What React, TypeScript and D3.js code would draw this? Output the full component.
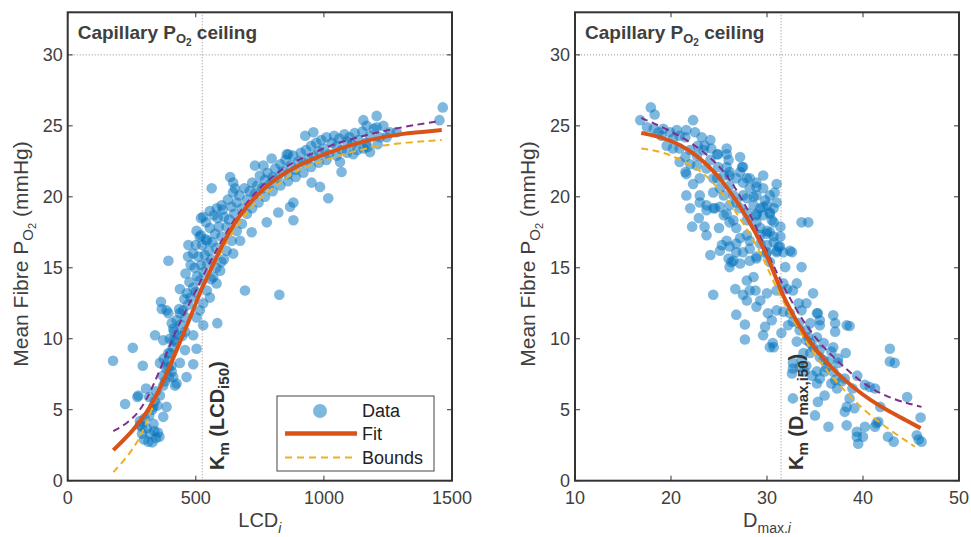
import React from "react";
import * as d3 from "d3";

// ---------- data ----------
const yTicks = [0, 5, 10, 15, 20, 25, 30];
const leftXTicks = [0, 500, 1000, 1500];
const rightXTicks = [10, 20, 30, 40, 50];
const leftKm = 525;
const rightKm = 31.46;
const ceiling = 30;

const leftPoints: [number, number][] = [
  [177,8.45],[254,9.36],[293,8.1],[224,5.4],[306,6.5],[272,5.9],[341,10.25],[364,12.6],[367,12.1],[438,13.5],
  [584,11.1],[692,13.4],[826,13.1],[490,8.2],[373,4.5],[386,5.2],[373,6.7],[419,6.7],[412,7.3],[464,7.3],
  [438,8.3],[393,8.0],[393,9.0],[503,9.3],[458,9.2],[412,9.9],[458,10.5],[490,10.25],[529,10.95],[406,11.1],
  [438,11.8],[386,12.0],[516,12.0],[393,15.5],[276,6.0],[334,5.2],[425,6.85],[406,7.7],[360,8.3],[373,9.9],
  [412,10.7],[393,11.8],
  [282,3.9],[290,3.3],[298,2.9],[308,3.7],[315,2.75],[322,3.3],[330,2.7],[338,3.5],[345,3.0],[352,3.4],
  [358,3.1],[300,4.4],[318,4.6],[282,4.2],[290,3.8],[335,4.0],
  [330,5.0],[340,5.6],[350,5.3],[318,5.9],[345,6.3],[360,6.0],[372,7.4],[380,7.0],[385,7.9],[375,8.6],
  [392,8.4],[400,9.0],[395,7.3],[405,8.1],[410,9.4],[398,10.0],[420,9.8],[415,10.5],[430,10.3],[425,11.3],
  [440,11.0],[447,10.2],[435,12.1],[450,12.0],[460,11.5],[470,12.4],[455,12.8],[465,13.2],[480,12.9],[490,13.6],
  [475,14.0],[500,13.3],[505,14.4],[495,15.0],[515,14.1],[520,15.2],[510,15.8],[530,14.7],[535,15.9],[545,15.3],
  [525,16.6],[550,16.2],[560,15.6],[540,17.0],[565,16.8],[575,17.4],[555,17.8],[580,16.4],[590,17.9],[600,17.2],
  [585,18.5],[610,18.6],[620,17.9],[605,19.1],[630,18.4],[640,19.3],[625,19.8],[650,18.8],[660,19.6],[645,20.3],
  [670,20.1],[680,19.2],[690,20.6],[700,19.8],[710,20.4],[720,21.0],[730,20.2],[740,20.8],[750,21.5],[760,20.6],
  [770,21.2],[780,21.7],[790,20.9],[800,21.4],[810,22.0],[820,21.3],[830,22.3],[840,21.8],[850,22.6],[860,21.6],
  [870,22.2],[880,22.9],[890,21.9],[900,22.5],[910,23.1],[920,22.4],[930,23.3],[940,22.7],[950,23.6],[960,22.9],
  [970,23.8],[980,23.2],[990,24.0],[1000,23.4],[1010,24.2],[1020,23.0],[1030,23.8],[1040,24.3],[1050,23.6],[1060,24.1],
  [1070,23.3],[1080,24.4],[1090,23.9],[1100,24.2],[1110,23.7],[1120,24.5],[1135,24.0],[1150,24.6],[1165,23.8],[1180,24.3],
  [1195,24.8],
  [560,14.2],[580,15.0],[600,15.4],[620,16.2],[640,16.9],[660,17.6],[680,18.1],[700,18.8],[720,19.2],[745,19.6],
  [770,20.0],[800,20.4],[830,20.8],[860,21.1],[890,21.4],[920,21.7],[950,22.1],[980,22.4],[1010,22.6],[1050,22.9],
  [1090,23.1],[1130,23.3],[1170,23.5],[1210,23.7],
  [1206,25.7],[1154,25.4],[1167,25.0],[1232,25.0],[1206,24.9],[1258,24.55],[1284,24.55],[1245,24.2],[1219,24.2],[1464,26.3],
  [1451,25.4],[927,24.3],[959,24.55],[1180,23.15],[1154,23.4],[1115,23.0],[1069,21.75],[1017,19.9],[985,20.7],[952,21.0],
  [1063,22.45],
  [634,21.4],[562,20.6],[653,20.6],[529,18.6],[503,17.6],[471,16.6],[490,16.0],[718,17.5],[777,18.2],[822,18.9],
  [881,19.6],[868,19.3],[881,18.35],[731,22.2],[764,22.2],[861,23.0],[582,19.2],[601,19.4],[646,21.0],[796,22.7],
  [855,23.0],[520,18.5],[673,16.9],[646,16.0],
  [480,15.2],[460,14.6],[470,15.8],[500,16.6],[515,17.2],[540,18.2],[555,19.0],[570,18.7],[520,17.3],[545,16.9],
  [543,13.4],[568,14.35],[581,13.9],[529,12.5],[503,11.5],[555,12.9],[595,14.8],[610,15.6],
];

const rightPoints: [number, number][] = [
  [17.9,26.3],[18.3,25.8],[16.8,25.4],[17.5,24.9],[18.2,24.8],[18.7,24.55],[19.0,24.3],[22.3,25.4],[22.5,24.55],[20.2,24.1],
  [20.9,24.3],[21.6,24.7],[24.1,24.0],[25.8,23.0],[26.0,22.6],[27.2,22.8],[27.4,22.1],[31.0,20.9],[30.8,20.3],[21.6,21.6],
  [22.3,20.9],[23.0,19.6],[22.2,17.9],[22.9,18.5],[23.5,17.9],[23.7,17.3],[24.1,15.9],[25.0,17.8],[24.4,19.2],[25.8,16.9],
  [25.3,16.6],[27.2,17.1],[26.8,16.1],[26.0,15.65],[26.3,15.4],
  [27.9,21.3],[28.2,20.6],[28.9,20.1],[29.6,20.6],[30.0,19.4],[30.3,18.9],[30.7,19.2],[31.0,19.6],
  [28.9,18.2],[29.3,17.8],[30.3,17.5],[30.7,16.8],[30.0,16.1],[31.2,16.5],
  [24.4,20.3],[25.1,20.6],[25.5,20.1],[26.1,20.8],[26.5,20.1],[26.8,19.6],[26.1,19.4],[27.2,19.2],[27.5,20.1],[26.1,21.5],
  [25.8,23.4],[26.8,21.3],
  [20.9,23.4],[21.5,22.8],[22.0,22.3],[22.7,22.9],[22.8,23.6],[23.4,23.3],[24.1,22.6],[24.8,23.0],[23.7,22.0],[23.0,21.3],
  [24.4,21.3],[24.9,22.1],
  [19.55,23.6],[20.2,23.4],[20.9,22.45],[21.5,21.75],[21.6,20.1],[23.0,20.1],[22.0,19.2],[23.7,19.4],[24.8,21.3],[25.5,21.5],
  [26.1,21.75],[27.2,21.75],[27.5,21.0],[28.2,21.3],[28.9,21.0],[29.6,21.5],[27.9,19.9],[28.6,19.4],[29.3,19.2],[29.6,18.7],
  [28.9,18.7],[30.3,20.1],[27.9,18.9],[30.7,18.2],[26.1,18.2],[25.5,18.7],[26.8,17.8],[27.9,17.3],[29.3,17.3],[30.0,16.6],
  [28.2,16.35],[27.5,16.1],[28.9,15.65],[30.3,15.4],[31.0,16.1],
  [19.2,24.8],[20.6,24.7],[21.5,24.2],[23.2,24.2],[23.5,23.6],[24.2,23.4],[24.9,23.0],[19.9,24.55],[22.0,23.3],[22.7,22.2],
  [28.6,20.0],[28.9,20.7],[29.8,19.75],[30.5,18.35],[30.0,17.6],[31.35,16.5],[31.7,16.1],[32.6,16.1],[31.9,15.05],[33.6,15.05],
  [33.6,18.2],[34.3,18.2],[27.5,22.1],[25.8,22.1],[26.5,15.5],
  [24.4,13.1],[26.7,13.5],[26.8,11.7],[27.7,11.0],[27.7,9.95],[29.6,10.25],[30.7,9.4],[34.8,13.2],[34.1,12.5],[35.3,11.8],
  [36.9,11.65],[37.1,11.1],[37.1,10.5],[38.3,10.95],[35.5,10.95],[31.5,10.4],[32.2,10.95],[32.7,11.2],[33.4,10.6],[34.3,10.1],
  [33.1,9.8],[29.8,10.85],[30.5,11.3],[30.1,11.8],[31.0,12.0],[31.7,11.9],
  [28.9,12.25],[29.3,12.7],[30.0,13.2],[31.0,13.4],[32.1,13.5],[32.7,13.4],[33.1,13.9],[31.7,13.9],
  [27.9,14.1],[28.6,14.35],[28.2,13.4],[27.5,13.1],[27.9,12.7],[28.8,13.4],
  [27.2,15.3],[26.1,15.05],[28.2,15.5],[28.9,15.8],[29.9,16.0],[31.0,16.2],[32.4,16.2],[31.4,17.2],
  [25.1,19.3],[25.8,18.8],[26.5,18.35],[27.9,18.35],[28.9,18.8],[29.6,19.3],[30.3,18.8],[31.4,17.9],[30.7,17.2],[29.97,17.4],
  [29.3,16.7],[28.2,16.9],[26.8,16.7],[26.1,16.5],[25.1,16.2],[23.7,19.05],[24.6,19.2],
  [34.5,9.7],[35.9,9.7],[36.9,9.4],
  [38.6,10.9],[42.8,9.3],[42.8,8.4],[43.3,8.3],[38.2,9.0],[39.4,7.4],[40.2,6.75],[40.7,6.6],[41.25,6.5],[44.6,5.9],
  [46.0,4.45],[45.6,3.2],[45.8,2.9],[46.1,2.75],[42.6,3.1],[43.2,2.75],[41.8,5.2],[41.6,4.15],[41.25,3.8],[40.2,3.8],
  [40.0,3.1],[39.35,3.45],[39.5,2.6],[39.35,3.1],[38.3,3.9],[36.4,3.8],[38.3,5.2],[39.1,5.1],[38.1,4.85],[35.0,4.6],
  [35.3,5.55],[36.0,6.0],[32.7,5.8],[38.6,5.8],[38.9,6.5],[37.3,6.5],[37.8,7.0],[38.1,7.2],[36.7,6.85],[37.1,7.1],
  [36.9,7.7],[37.4,8.3],[36.0,7.7],[36.2,8.0],[36.4,8.4],[35.9,8.5],[35.2,7.7],[35.5,7.2],[34.7,7.4],[35.2,6.85],
  [32.7,7.9],[33.4,8.0],[33.9,7.7],[34.1,8.1],[33.6,8.5],[35.5,8.7],[36.7,9.1],[37.4,8.6],[34.5,9.0],[33.8,9.0],
  [34.8,9.4],[35.5,9.2],[34.1,9.9],[35.2,10.1],[34.1,10.6],[34.5,11.1],[35.5,11.3],[35.2,11.8],[33.6,12.0],[33.3,12.5],
  [32.4,11.8],[33.3,11.1],[30.3,9.4],[30.6,9.7],[32.7,8.3],[32.6,7.55],[41.4,4.05],
];

const leftFit: [number, number][] = [
  [178,2.15],[256,3.55],[308,4.75],[360,6.4],[425,9.2],[490,12.0],[523,13.6],[568,15.2],[594,16.3],[660,18.5],
  [738,20.2],[855,21.9],[1024,23.2],[1167,24.0],[1297,24.45],[1460,24.7],
];
const leftUpper: [number, number][] = [
  [178,3.5],[230,4.0],[283,4.9],[330,6.5],[380,8.7],[430,10.9],[490,13.0],[560,15.6],[640,18.2],[740,20.6],
  [860,22.3],[926,22.8],[1037,23.75],[1167,24.35],[1297,24.9],[1440,25.3],
];
const leftLower: [number, number][] = [
  [178,0.6],[224,1.5],[269,2.6],[302,3.8],[347,5.9],[400,8.3],[460,10.9],[520,13.3],[590,15.9],[660,18.0],
  [740,19.8],[850,21.3],[907,22.0],[1037,22.8],[1167,23.45],[1297,23.8],[1460,24.0],
];
const rightFit: [number, number][] = [
  [16.9,24.5],[19,24.2],[20.9,23.7],[22.5,23.0],[24.4,21.9],[26.15,20.4],[27.9,18.6],[29.6,16.5],[30.65,14.8],[31.7,12.9],
  [33.6,10.6],[35.2,9.1],[37.3,7.55],[39.3,6.4],[40.7,5.7],[42.8,4.85],[44.5,4.25],[46,3.7],
];
const rightUpper: [number, number][] = [
  [16.9,25.55],[19.55,24.8],[22.7,23.6],[25.4,22.0],[27.2,20.1],[28.6,18.3],[30.0,16.1],[31.35,14.2],[32.4,12.8],[34.5,10.4],
  [37.3,8.4],[40.4,6.6],[43.2,5.7],[46.1,5.2],
];
const rightLower: [number, number][] = [
  [16.9,23.4],[19.2,23.2],[22.7,22.1],[24.75,20.8],[26.85,18.9],[28.9,16.6],[29.8,15.4],[31.4,12.9],[34.5,9.2],[37.3,6.85],
  [40.7,4.5],[45.4,2.4],
];

// ---------- styles ----------
const FONT = "'Liberation Sans', Arial, Helvetica, sans-serif";
const AX = "#333333";
const DOT = "#0072BD";
const FIT = "#D95319";
const UP = "#7E2F8E";
const LOW = "#EDB120";

const TOP = 12.3;
const BOTTOM = 480.7;

const yScale = d3.scaleLinear().domain([0, 33]).range([BOTTOM, TOP]);

type PanelProps = {
  x: d3.ScaleLinear<number, number>;
  xTicks: number[];
  points: [number, number][];
  fit: [number, number][];
  upper: [number, number][];
  lower: [number, number][];
  km: number;
  xLabel: React.ReactNode;
  kmLabel: React.ReactNode;
  legend?: boolean;
};

function Panel({ x, xTicks, points, fit, upper, lower, km, xLabel, kmLabel, legend }: PanelProps) {
  const [x0, x1] = x.range();
  const line = d3
    .line<[number, number]>()
    .x((d) => x(d[0]))
    .y((d) => yScale(d[1]))
    .curve(d3.curveBasis);
  const tick = 5;
  const yMid = 254;
  return (
    <g fontFamily={FONT}>
      {/* grid: ceiling and Km */}
      <line x1={x0} x2={x1} y1={yScale(ceiling)} y2={yScale(ceiling)} stroke="#8a8a8a" strokeWidth={1} strokeDasharray="1,2" />
      <line x1={x(km)} x2={x(km)} y1={TOP} y2={BOTTOM} stroke="#8a8a8a" strokeWidth={1} strokeDasharray="1,2" />
      {/* scatter */}
      <g>
        {points.map((p, i) => (
          <circle key={i} cx={x(p[0])} cy={yScale(p[1])} r={5.3} fill={DOT} fillOpacity={0.5} />
        ))}
      </g>
      {/* bounds & fit */}
      <path d={line(upper) || ""} fill="none" stroke={UP} strokeWidth={2} strokeDasharray="7,4.5" />
      <path d={line(lower) || ""} fill="none" stroke={LOW} strokeWidth={2} strokeDasharray="7,4.5" />
      <path d={line(fit) || ""} fill="none" stroke={FIT} strokeWidth={4} />
      {/* Km label */}
      <text
        transform={`translate(${x(km) + 22},${470}) rotate(-90)`}
        fontSize={20}
        fontWeight="bold"
        fill="#333"
        style={{ whiteSpace: "pre" }}
      >
        {kmLabel}
      </text>
      {/* title */}
      <text x={x0 + 10} y={39} fontSize={19} fontWeight="bold" fill="#404040" style={{ whiteSpace: "pre" }}>
        Capillary P<tspan dy={4} fontSize={13}>O</tspan>
        <tspan dy={3} fontSize={10}>2</tspan>
        <tspan dy={-7} fontSize={19}> ceiling</tspan>
      </text>
      {/* frame */}
      <rect x={x0} y={TOP} width={x1 - x0} height={BOTTOM - TOP} fill="none" stroke={AX} strokeWidth={2} />
      {/* ticks */}
      {yTicks.map((t) => (
        <g key={"y" + t}>
          <line x1={x0} x2={x0 + tick} y1={yScale(t)} y2={yScale(t)} stroke={AX} strokeWidth={1} />
          <line x1={x1} x2={x1 - tick} y1={yScale(t)} y2={yScale(t)} stroke={AX} strokeWidth={1} />
          <text x={x0 - 5} y={yScale(t)} dy="0.36em" textAnchor="end" fontSize={18} fill="#404040">
            {t}
          </text>
        </g>
      ))}
      {xTicks.map((t) => (
        <g key={"x" + t}>
          <line x1={x(t)} x2={x(t)} y1={BOTTOM} y2={BOTTOM - tick} stroke={AX} strokeWidth={1} />
          <line x1={x(t)} x2={x(t)} y1={TOP} y2={TOP + tick} stroke={AX} strokeWidth={1} />
          <text x={x(t)} y={503.5} textAnchor="middle" fontSize={18} fill="#404040">
            {t}
          </text>
        </g>
      ))}
      {/* axis labels */}
      <text x={(x0 + x1) / 2} y={527} textAnchor="middle" fontSize={20} fill="#404040" style={{ whiteSpace: "pre" }}>
        {xLabel}
      </text>
      <text
        transform={`translate(${x0 - 40},${yMid}) rotate(-90)`}
        textAnchor="middle"
        fontSize={21}
        fill="#404040"
        style={{ whiteSpace: "pre" }}
      >
        Mean Fibre P<tspan dy={5} fontSize={15}>O</tspan>
        <tspan dy={3} fontSize={11}>2</tspan>
        <tspan dy={-8} fontSize={21}> (mmHg)</tspan>
      </text>
      {legend && (
        <g>
          <rect x={277} y={396} width={157} height={75} fill="#fff" stroke="#444" strokeWidth={1} />
          <circle cx={320} cy={411} r={7} fill={DOT} fillOpacity={0.5} />
          <line x1={285} x2={357} y1={433.5} y2={433.5} stroke={FIT} strokeWidth={4.5} />
          <line x1={285} x2={355} y1={457.5} y2={457.5} stroke={LOW} strokeWidth={2} strokeDasharray="7,5" />
          <text x={362} y={417} fontSize={18} fill="#222">Data</text>
          <text x={362} y={440} fontSize={18} fill="#222">Fit</text>
          <text x={362} y={463.5} fontSize={18} fill="#222">Bounds</text>
        </g>
      )}
    </g>
  );
}

export default function App() {
  const xLeft = d3.scaleLinear().domain([0, 1500]).range([67.7, 452]);
  const xRight = d3.scaleLinear().domain([10, 50]).range([575, 959]);
  return (
    <div style={{ position: "absolute", left: 0, top: 0 }}>
      <svg width={971} height={537} style={{ display: "block", background: "#fff" }}>
        <Panel
          x={xLeft}
          xTicks={leftXTicks}
          points={leftPoints}
          fit={leftFit}
          upper={leftUpper}
          lower={leftLower}
          km={leftKm}
          legend
          xLabel={
            <>
              LCD<tspan dy={6} fontSize={14} fontStyle="italic">i</tspan>
            </>
          }
          kmLabel={
            <>
              K<tspan dy={5} fontSize={15}>m</tspan>
              <tspan dy={-5}> (LCD</tspan>
              <tspan dy={5} fontSize={15}>i50</tspan>
              <tspan dy={-5}>)</tspan>
            </>
          }
        />
        <Panel
          x={xRight}
          xTicks={rightXTicks}
          points={rightPoints}
          fit={rightFit}
          upper={rightUpper}
          lower={rightLower}
          km={rightKm}
          xLabel={
            <>
              D<tspan dy={6} fontSize={14}>max.</tspan>
              <tspan fontSize={14} fontStyle="italic">i</tspan>
            </>
          }
          kmLabel={
            <>
              K<tspan dy={5} fontSize={15}>m</tspan>
              <tspan dy={-5}> (D</tspan>
              <tspan dy={5} fontSize={15}>max,i50</tspan>
              <tspan dy={-5}>)</tspan>
            </>
          }
        />
      </svg>
    </div>
  );
}
